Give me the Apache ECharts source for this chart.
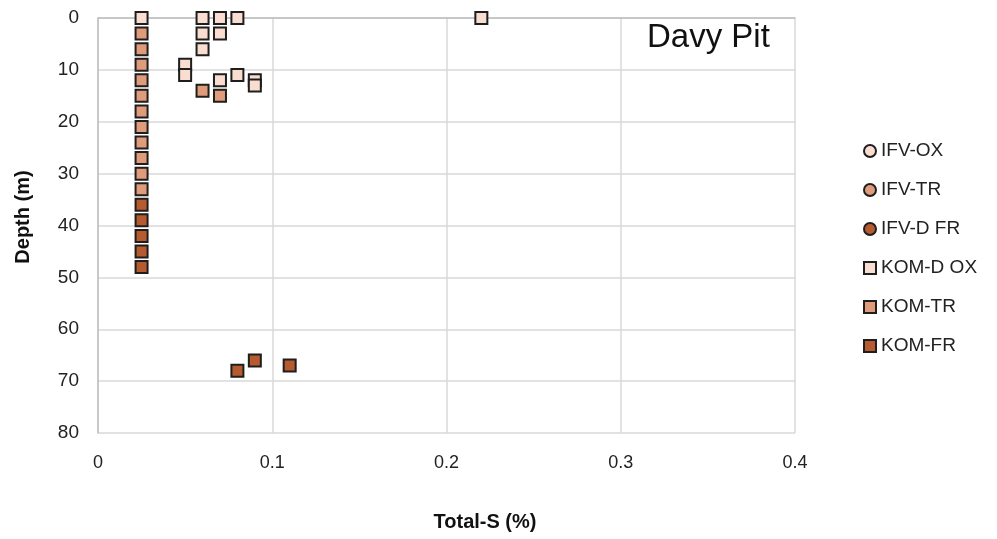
<!DOCTYPE html>
<html>
<head>
<meta charset="utf-8">
<script src="https://cdn.jsdelivr.net/npm/echarts@6/dist/echarts.min.js"></script>
<style>
html,body{margin:0;padding:0;background:#fff;}
#chart{width:997px;height:539px;}
</style>
</head>
<body>
<div id="chart"></div>
<script>
// Series names (legend order)
const seriesNames = ['IFV-OX', 'IFV-TR', 'IFV-D FR', 'KOM-D OX', 'KOM-TR', 'KOM-FR'];
// Data: Total-S (%) and Depth (m)
const ifvOxS = [];   const ifvOxDepth = [];
const ifvTrS = [];   const ifvTrDepth = [];
const ifvFrS = [];   const ifvFrDepth = [];
const komOxS =     [0.025, 0.06, 0.07, 0.08, 0.22, 0.06, 0.07, 0.06, 0.05, 0.05, 0.08, 0.07, 0.09, 0.09];
const komOxDepth = [0,     0,    0,    0,    0,    3,    3,    6,    9,    11,   11,   12,   12,   13];
const komTrS =     [0.025, 0.025, 0.025, 0.025, 0.025, 0.025, 0.025, 0.025, 0.025, 0.025, 0.025, 0.06, 0.07];
const komTrDepth = [3,     6,     9,     12,    15,    18,    21,    24,    27,    30,    33,    14,   15];
const komFrS =     [0.025, 0.025, 0.025, 0.025, 0.025, 0.09, 0.11, 0.08];
const komFrDepth = [36,    39,    42,    45,    48,    66,   67,   68];
const xTicks = [0, 0.1, 0.2, 0.3, 0.4];
const yTicks = [0, 10, 20, 30, 40, 50, 60, 70, 80];

const colors = { ox: '#f8ddd0', tr: '#e09b7b', fr: '#b65a30' };
const FONT = '"Liberation Sans", Arial, sans-serif';

function pairs(xs, ys) { return xs.map((x, i) => [x, ys[i]]); }

function mk(name, xs, ys, color, symbol) {
  return {
    name: name, type: 'scatter', symbol: symbol, symbolSize: 12,
    data: pairs(xs, ys),
    itemStyle: { color: color, borderColor: '#1e1e1e', borderWidth: 2, opacity: 1 },
    emphasis: { disabled: true }
  };
}

const chart = echarts.init(document.getElementById('chart'), null, { renderer: 'canvas' });
chart.setOption({
  animation: false,
  backgroundColor: '#fff',
  textStyle: { fontFamily: FONT },
  grid: { left: 98, top: 18, right: 202, bottom: 106, containLabel: false },
  xAxis: {
    type: 'value', min: xTicks[0], max: xTicks[xTicks.length - 1], interval: 0.1,
    axisLine: { show: true, lineStyle: { color: '#bfbfbf', width: 1.5 } },
    axisTick: { show: false },
    axisLabel: { color: '#222', fontSize: 18, fontFamily: FONT, margin: 21 },
    splitLine: { show: true, lineStyle: { color: '#d9d9d9', width: 1.5 } }
  },
  yAxis: {
    type: 'value', inverse: true, min: yTicks[0], max: yTicks[yTicks.length - 1], interval: 10,
    axisLine: { show: true, lineStyle: { color: '#bfbfbf', width: 1.5 } },
    axisTick: { show: false },
    axisLabel: { color: '#222', fontSize: 19, fontFamily: FONT, margin: 19 },
    splitLine: { show: true, lineStyle: { color: '#d9d9d9', width: 1.5 } }
  },
  legend: {
    orient: 'vertical', left: 858, top: 136,
    itemWidth: 12, itemHeight: 12, itemGap: 19,
    textStyle: { fontSize: 19, color: '#222', fontFamily: FONT, lineHeight: 20 },
    data: [
      { name: seriesNames[0], icon: 'circle' },
      { name: seriesNames[1], icon: 'circle' },
      { name: seriesNames[2], icon: 'circle' },
      { name: seriesNames[3], icon: 'rect' },
      { name: seriesNames[4], icon: 'rect' },
      { name: seriesNames[5], icon: 'rect' }
    ]
  },
  graphic: [
    { type: 'text', left: 647, top: 21, style: { text: 'Davy Pit', fontSize: 33, fontFamily: FONT, fill: '#111' } },
    { type: 'text', x: 485, y: 522, style: { text: 'Total-S (%)', fontSize: 20, fontWeight: 'bold', fontFamily: FONT, fill: '#111', align: 'center', verticalAlign: 'middle' } },
    { type: 'text', x: 23, y: 217, rotation: Math.PI / 2, style: { text: 'Depth (m)', fontSize: 20, fontWeight: 'bold', fontFamily: FONT, fill: '#111', align: 'center', verticalAlign: 'middle' } }
  ],
  series: [
    mk(seriesNames[0], ifvOxS, ifvOxDepth, colors.ox, 'circle'),
    mk(seriesNames[1], ifvTrS, ifvTrDepth, colors.tr, 'circle'),
    mk(seriesNames[2], ifvFrS, ifvFrDepth, colors.fr, 'circle'),
    mk(seriesNames[3], komOxS, komOxDepth, colors.ox, 'rect'),
    mk(seriesNames[4], komTrS, komTrDepth, colors.tr, 'rect'),
    mk(seriesNames[5], komFrS, komFrDepth, colors.fr, 'rect')
  ]
});
</script>
</body>
</html>
